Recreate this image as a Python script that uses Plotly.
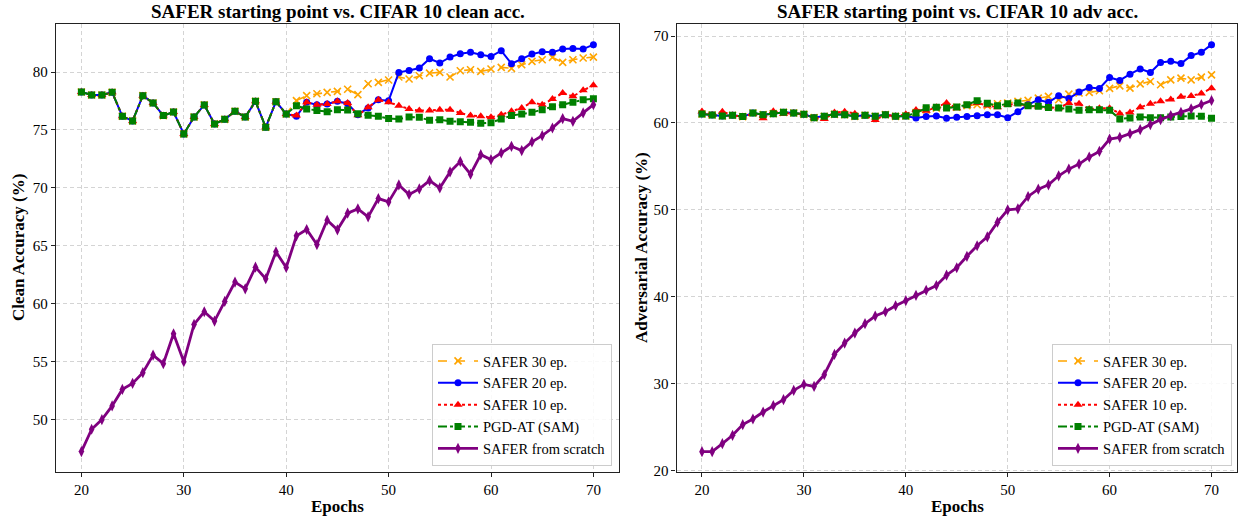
import plotly.graph_objects as go

epochs = list(range(20, 71))

# ---------- Left chart: clean accuracy ----------
shared_clean = [78.28, 78.02, 78.02, 78.25, 76.18, 75.78, 77.96, 77.33, 76.24, 76.55,
                74.66, 76.12, 77.16, 75.52, 75.92, 76.61, 76.12, 77.47, 75.23, 77.44, 76.38]
clean_safer30 = shared_clean + [77.53, 77.96, 78.13, 78.25, 78.33, 78.51, 78.05, 78.99, 79.11, 79.31,
                                79.57, 79.40, 79.68, 79.91, 79.97, 79.57, 80.11, 80.20, 80.06, 80.26,
                                80.40, 80.32, 80.63, 80.92, 81.06, 81.26, 80.83, 81.06, 81.21, 81.29]
clean_safer20 = shared_clean + [76.18, 77.39, 77.18, 77.24, 77.47, 77.27, 76.32, 76.90, 77.61, 77.53,
                                79.97, 80.14, 80.34, 81.15, 80.78, 81.29, 81.58, 81.70, 81.49, 81.35,
                                81.84, 80.72, 81.15, 81.55, 81.75, 81.70, 81.98, 82.04, 81.98, 82.36]
clean_safer10 = shared_clean + [76.24, 77.39, 77.18, 77.24, 77.47, 77.33, 76.26, 76.95, 77.61, 77.39,
                                77.10, 76.81, 76.67, 76.67, 76.75, 76.75, 76.47, 76.24, 76.18, 76.09,
                                76.32, 76.61, 76.90, 77.39, 77.18, 77.67, 78.19, 77.90, 78.42, 78.85]
clean_pgd = shared_clean + [77.10, 76.81, 76.67, 76.58, 76.75, 76.72, 76.41, 76.26, 76.18, 75.98,
                            75.95, 76.12, 76.09, 75.83, 75.89, 75.75, 75.72, 75.66, 75.57, 75.63,
                            75.95, 76.24, 76.38, 76.52, 76.75, 77.01, 77.18, 77.39, 77.61, 77.70]
clean_scratch = [47.24, 49.17, 50.00, 51.18, 52.61, 53.13, 54.05, 55.57, 54.83, 57.41,
                 55.00, 58.22, 59.31, 58.51, 60.20, 61.87, 61.29, 63.16, 62.16, 64.48,
                 63.13, 65.86, 66.41, 65.11, 67.21, 66.38, 67.82, 68.19, 67.50, 69.08,
                 68.79, 70.26, 69.43, 69.91, 70.63, 70.00, 71.38, 72.27, 71.18, 72.87,
                 72.44, 73.02, 73.59, 73.22, 73.97, 74.51, 75.17, 75.98, 75.75, 76.47, 77.18]

# ---------- Right chart: adversarial accuracy ----------
shared_adv = [61.03, 60.92, 60.80, 60.88, 60.73, 61.15, 60.95, 61.07, 61.22, 61.15,
              60.99, 60.61, 60.76, 60.99, 60.95, 60.76, 60.88, 60.76, 60.95, 60.76, 60.80]
adv_safer30 = shared_adv + [61.20, 61.50, 61.70, 61.90, 61.80, 62.00, 62.10, 62.00, 62.21, 62.29,
                            62.48, 62.60, 62.86, 63.05, 62.67, 63.32, 63.44, 63.51, 63.70, 63.97,
                            64.27, 64.01, 64.50, 64.77, 64.39, 64.96, 65.15, 64.96, 65.27, 65.53]
adv_safer20 = shared_adv + [60.57, 60.73, 60.80, 60.53, 60.65, 60.73, 60.84, 60.95, 60.95, 60.61,
                            61.30, 62.10, 62.67, 62.37, 63.13, 62.82, 63.55, 64.08, 63.97, 65.23,
                            64.89, 65.61, 66.22, 65.80, 66.95, 67.10, 66.83, 67.75, 68.13, 69.01]
adv_safer10 = [61.33, 60.92, 61.30, 60.88, 60.73, 61.05, 60.55, 61.35, 61.05, 61.15,
               60.99, 60.61, 60.45, 61.20, 61.30, 61.05, 60.88, 60.35, 60.95, 60.76, 61.00] + \
              [61.50, 61.40, 61.80, 62.30, 61.70, 62.00, 62.30, 62.00, 61.80, 62.10,
               62.20, 62.00, 61.90, 61.80, 61.70, 62.30, 62.20, 61.60, 61.70, 61.70,
               61.10, 61.20, 61.80, 62.20, 62.50, 62.70, 63.00, 63.10, 63.40, 64.00]
adv_pgd = shared_adv + [61.15, 61.75, 61.81, 61.72, 61.83, 62.10, 62.56, 62.27, 61.98, 62.21,
                        62.29, 61.98, 61.91, 61.79, 61.72, 61.60, 61.45, 61.53, 61.53, 61.45,
                        60.46, 60.57, 60.69, 60.61, 60.61, 60.69, 60.73, 60.80, 60.76, 60.53]
adv_scratch = [22.18, 22.18, 23.10, 24.06, 25.29, 25.94, 26.74, 27.47, 28.16, 29.23,
               29.92, 29.69, 31.03, 33.37, 34.67, 35.82, 36.90, 37.78, 38.28, 38.97,
               39.55, 40.17, 40.75, 41.30, 42.48, 43.34, 44.66, 45.87, 46.89, 48.58,
               50.00, 50.12, 51.54, 52.38, 52.88, 53.92, 54.69, 55.27, 56.08, 56.73,
               58.15, 58.35, 58.77, 59.23, 59.81, 60.38, 60.85, 61.23, 61.62, 62.12, 62.58]

series_names = ["SAFER 30 ep.", "SAFER 20 ep.", "SAFER 10 ep.", "PGD-AT (SAM)", "SAFER from scratch"]
x_ticks = [20, 30, 40, 50, 60, 70]
clean_ticks = [50, 55, 60, 65, 70, 75, 80]
adv_ticks = [20, 30, 40, 50, 60, 70]

W, H = 1238, 517
FONT = "Liberation Serif"

styles = [
    dict(color="orange", dash="dash", width=1.6,
         marker=dict(symbol="x-thin", size=7, color="orange", line=dict(width=1.6, color="orange"))),
    dict(color="blue", dash="solid", width=2,
         marker=dict(symbol="circle", size=7, color="blue")),
    dict(color="red", dash="dot", width=2,
         marker=dict(symbol="triangle-up", size=8, color="red")),
    dict(color="green", dash="dashdot", width=2,
         marker=dict(symbol="square", size=7, color="green")),
    dict(color="purple", dash="solid", width=2.8,
         marker=dict(symbol="diamond-tall", size=8, color="purple")),
]

fig = go.Figure()
left_data = [clean_safer30, clean_safer20, clean_safer10, clean_pgd, clean_scratch]
right_data = [adv_safer30, adv_safer20, adv_safer10, adv_pgd, adv_scratch]

for name, ys, st in zip(series_names, left_data, styles):
    fig.add_trace(go.Scatter(x=epochs, y=ys, name=name, mode="lines+markers",
                             line=dict(color=st["color"], dash=st["dash"], width=st["width"]),
                             marker=st["marker"], xaxis="x", yaxis="y", legend="legend"))
for name, ys, st in zip(series_names, right_data, styles):
    fig.add_trace(go.Scatter(x=epochs, y=ys, name=name, mode="lines+markers",
                             line=dict(color=st["color"], dash=st["dash"], width=st["width"]),
                             marker=st["marker"], xaxis="x2", yaxis="y2", legend="legend2"))

def px_x(p):
    return p / W

def px_y(p):
    return (H - p) / H

ax_common = dict(showline=True, linecolor="#222", linewidth=1.2, mirror=True,
                 ticks="outside", ticklen=4, tickcolor="#222", tickwidth=1.1,
                 showgrid=True, gridcolor="#d4d4d4", griddash="4px,3px", gridwidth=1,
                 zeroline=False, automargin=False,
                 tickfont=dict(family=FONT, size=15, color="black"))

y_dom = [px_y(472), px_y(24.3)]
legend_common = dict(bgcolor="rgba(255,255,255,0.85)", bordercolor="#cccccc", borderwidth=1,
                     font=dict(family=FONT, size=14.5, color="black"),
                     xanchor="right", yanchor="bottom", tracegroupgap=0, itemwidth=40)

def ann(text, x, y, size, angle=0):
    return dict(text=text, x=px_x(x), y=px_y(y), xref="paper", yref="paper",
                xanchor="center", yanchor="middle", textangle=angle, showarrow=False,
                font=dict(family=FONT, size=size, color="black"))

fig.update_layout(
    width=W, height=H,
    margin=dict(l=0, r=0, t=0, b=0),
    font=dict(family=FONT, size=15, color="black"),
    paper_bgcolor="white", plot_bgcolor="white",
    xaxis=dict(domain=[px_x(55.8), px_x(619)], range=[17.5, 72.5], tickvals=x_ticks, anchor="y", **ax_common),
    yaxis=dict(domain=y_dom, range=[45.48, 84.12], tickvals=clean_ticks, anchor="x", **ax_common),
    xaxis2=dict(domain=[px_x(676.5), px_x(1237)], range=[17.5, 72.5], tickvals=x_ticks, anchor="y2", **ax_common),
    yaxis2=dict(domain=y_dom, range=[19.84, 71.35], tickvals=adv_ticks, anchor="x2", **ax_common),
    legend=dict(x=px_x(612), y=px_y(466), **legend_common),
    legend2=dict(x=px_x(1232), y=px_y(466), **legend_common),
    annotations=[
        ann("<b>SAFER starting point vs. CIFAR 10 clean acc.</b>", 337.5, 11, 19),
        ann("<b>SAFER starting point vs. CIFAR 10 adv acc.</b>", 957, 11, 19),
        ann("<b>Epochs</b>", 337.5, 506, 17),
        ann("<b>Epochs</b>", 957, 506, 17),
        ann("<b>Clean Accuracy (%)</b>", 18, 248, 17, -90),
        ann("<b>Adversarial Accuracy (%)</b>", 641, 248, 17, -90),
    ],
)

fig.write_html("out.html", config={"displayModeBar": False},
               post_script="document.body.style.margin='0';")
